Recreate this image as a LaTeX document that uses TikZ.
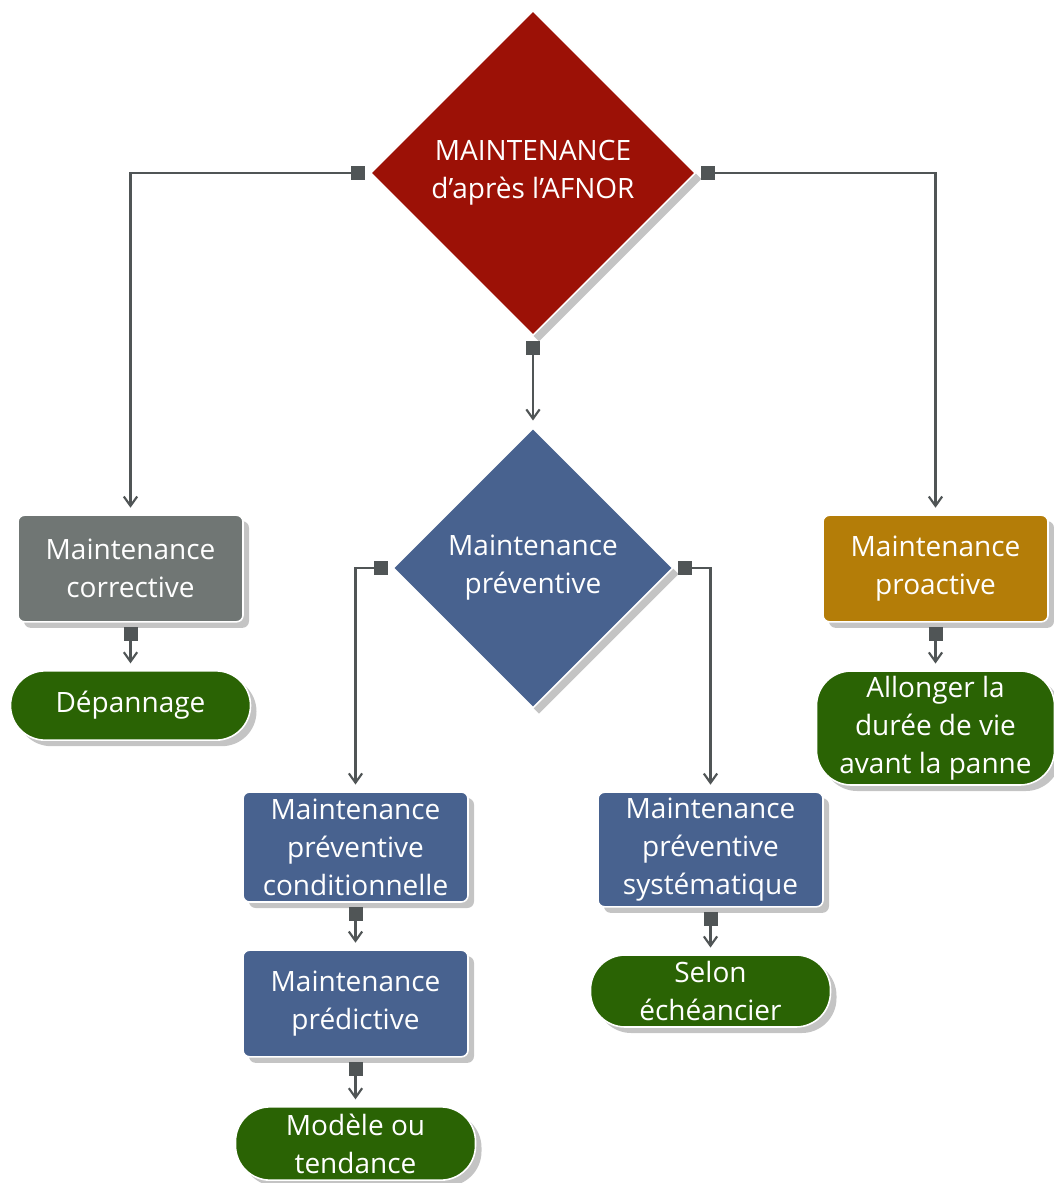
\documentclass[tikz,border=0pt]{standalone}
\usepackage{fontspec}
\setmainfont{Open Sans}
\usetikzlibrary{shapes.geometric,arrows.meta,shadows}
\definecolor{rougeafnor}{RGB}{156,17,6}
\definecolor{bleuprev}{RGB}{72,98,143}
\definecolor{griscorr}{RGB}{112,118,116}
\definecolor{orpro}{RGB}{180,125,8}
\definecolor{vertfeuille}{RGB}{42,99,4}
\definecolor{trait}{RGB}{80,85,86}
\definecolor{ombre}{RGB}{196,196,196}
\begin{document}
\begin{tikzpicture}[
	x=0.75pt, y=-0.75pt,
	forme/.style={text=white, font=\fontsize{21}{28.5}\selectfont, align=center,
		inner sep=+0pt, draw=white, line width=1.2pt,
		drop shadow={shadow xshift=4.5pt, shadow yshift=-4.5pt, fill=ombre, opacity=1}},
	losange/.style={forme, diamond, aspect=1},
	boite/.style={forme, rounded corners=5pt, minimum width=168.75pt, minimum height=80pt},
	feuille/.style={forme, rounded corners=26pt, fill=vertfeuille, minimum width=180pt},
	lien/.style={draw=trait, line width=1.6pt,
		{Square[length=10.5pt,width=10.5pt]}-{Straight Barb[length=7pt,width=10pt]},
		shorten <=3.5pt, shorten >=5pt}
]
\useasboundingbox (0,0) rectangle (1054,1183);
\node[losange, fill=rougeafnor, minimum size=244pt] (T) at (533,173) {MAINTENANCE\\d’après l’AFNOR};
\node[losange, fill=bleuprev, minimum size=210pt] (TM) at (533,568) {Maintenance\\préventive};
\node[boite, fill=griscorr] (TL) at (130.5,568.5) {Maintenance\\corrective};
\node[boite, fill=orpro] (TR) at (935.5,568.5) {Maintenance\\proactive};
\node[feuille, minimum height=52pt] (TLL) at (130.5,705.5) {Dépannage};
\node[feuille, minimum width=178.5pt, minimum height=85.5pt] (TRL) at (935.5,728) {Allonger la\\durée de vie\\avant la panne};
\node[boite, fill=bleuprev, minimum height=82.5pt] (TML) at (355.5,847) {Maintenance\\préventive\\conditionnelle};
\node[boite, fill=bleuprev] (TMLL) at (355.5,1003.5) {Maintenance\\prédictive};
\node[feuille, minimum height=55pt] (TMLLL) at (355.5,1143.5) {Modèle ou\\tendance};
\node[boite, fill=bleuprev, minimum height=86pt] (TMR) at (710.5,849.5) {Maintenance\\préventive\\systématique};
\node[feuille, minimum height=54pt] (TMRL) at (710.5,991) {Selon\\échéancier};
\draw[lien] (T.west) -| (TL.north);
\draw[lien] (T.east) -| (TR.north);
\draw[lien] (T.south) -- (TM.north);
\draw[lien] (TM.west) -| (TML.north);
\draw[lien] (TM.east) -| (TMR.north);
\draw[lien] (TL.south) -- (TLL.north);
\draw[lien] (TR.south) -- (TRL.north);
\draw[lien] (TML.south) -- (TMLL.north);
\draw[lien] (TMLL.south) -- (TMLLL.north);
\draw[lien] (TMR.south) -- (TMRL.north);
\end{tikzpicture}
\end{document}
